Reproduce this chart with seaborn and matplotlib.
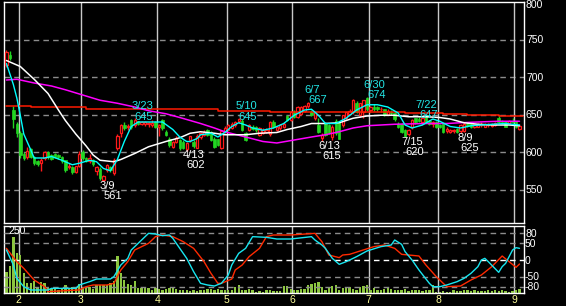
import matplotlib
matplotlib.use('Agg')
import matplotlib.pyplot as plt
import numpy as np
import pandas as pd
import seaborn as sns
from matplotlib.patches import Rectangle
from matplotlib.transforms import blended_transform_factory

sns.set_theme(style='dark')
plt.rcParams['font.family'] = ['Liberation Sans', 'DejaVu Sans']

# ---------------- data ----------------
holidays = ['2022-02-11', '2022-02-23', '2022-03-21', '2022-04-29', '2022-05-03',
            '2022-05-04', '2022-05-05', '2022-07-18', '2022-08-11']
dates = pd.bdate_range('2022-01-26', '2022-09-02').difference(pd.to_datetime(holidays))
month_labels = ['2', '3', '4', '5', '6', '7', '8', '9']

open_ = [716, 730, 656, 638, 626, 598, 593, 604, 593, 588,
         585, 592, 600, 596, 597, 596, 593, 589, 580, 580,
         574, 581, 600, 592, 588, 590, 575, 578, 563, 576,
         580, 572, 605, 625, 636, 633, 643, 636, 641, 638,
         637, 638, 636, 640, 633, 643, 627, 618, 607, 614,
         616, 614, 604, 616, 614, 606, 620, 623, 629, 627,
         618, 617, 605, 627, 630, 632, 636, 641, 642, 625,
         630, 634, 634, 623, 625, 627, 624, 640, 630, 632,
         633, 648, 643, 654, 647, 651, 655, 661, 654, 645,
         636, 619, 638, 636, 620, 642, 640, 636, 645, 651,
         653, 665, 649, 653, 672, 656, 660, 660, 657, 657,
         650, 653, 652, 637, 638, 629, 624, 633, 645, 644,
         640, 649, 641, 638, 640, 636, 637, 628, 627, 628,
         631, 628, 628, 637, 637, 633, 634, 636, 634, 636,
         635, 636, 646, 641, 640, 638, 641, 640, 631]
high = [736, 735, 661, 640, 628, 600, 607, 606, 595, 590,
        592, 601, 602, 598, 599, 598, 595, 590, 585, 581,
        582, 602, 603, 594, 597, 591, 582, 580, 570, 584,
        582, 592, 624, 638, 640, 638, 644, 645, 642, 642,
        641, 640, 643, 641, 637, 644, 629, 620, 615, 621,
        618, 616, 613, 622, 616, 624, 627, 630, 631, 628,
        620, 618, 630, 635, 637, 640, 642, 645, 644, 627,
        638, 636, 635, 634, 632, 632, 641, 643, 635, 638,
        640, 650, 655, 656, 662, 661, 663, 667, 656, 654,
        645, 625, 640, 638, 636, 644, 642, 650, 654, 657,
        671, 668, 666, 670, 674, 662, 664, 662, 660, 658,
        657, 656, 654, 640, 639, 631, 631, 644, 646, 647,
        646, 650, 643, 642, 641, 638, 638, 633, 631, 631,
        632, 637, 640, 640, 638, 638, 639, 640, 639, 639,
        639, 640, 648, 643, 641, 643, 645, 641, 637]
low = [714, 723, 632, 620, 592, 589, 591, 592, 583, 582,
       575, 590, 591, 589, 592, 591, 586, 574, 578, 571,
       572, 580, 590, 587, 586, 582, 570, 563, 561, 574,
       574, 570, 603, 620, 630, 630, 631, 634, 636, 636,
       635, 634, 634, 632, 621, 630, 622, 607, 605, 612,
       603, 604, 602, 614, 606, 605, 618, 621, 622, 615,
       606, 608, 604, 626, 629, 631, 634, 639, 628, 615,
       628, 629, 627, 621, 624, 626, 622, 632, 628, 630,
       632, 641, 642, 645, 646, 649, 653, 659, 648, 643,
       625, 615, 622, 624, 616, 623, 618, 634, 643, 649,
       651, 652, 647, 645, 655, 654, 655, 655, 654, 648,
       649, 650, 642, 632, 625, 620, 622, 631, 638, 640,
       638, 639, 636, 634, 632, 632, 626, 626, 626, 626,
       626, 625, 627, 634, 632, 632, 633, 634, 633, 634,
       634, 635, 639, 638, 633, 637, 639, 632, 630]
close = [733, 726, 644, 626, 596, 592, 601, 593, 585, 584,
         590, 600, 593, 591, 593, 593, 588, 576, 582, 573,
         581, 598, 592, 588, 592, 584, 580, 565, 568, 583,
         576, 590, 622, 636, 632, 635, 633, 643, 637, 640,
         640, 639, 639, 634, 636, 632, 623, 609, 613, 619,
         605, 606, 612, 621, 608, 622, 625, 627, 623, 616,
         607, 609, 628, 632, 636, 638, 640, 644, 629, 616,
         636, 631, 629, 632, 630, 630, 640, 634, 633, 636,
         638, 643, 653, 647, 660, 660, 661, 665, 650, 653,
         627, 623, 623, 625, 634, 625, 618, 649, 653, 655,
         669, 654, 665, 669, 657, 660, 657, 657, 658, 650,
         655, 652, 644, 634, 627, 622, 630, 643, 640, 642,
         645, 640, 638, 640, 633, 634, 627, 631, 630, 630,
         627, 636, 638, 635, 633, 637, 638, 637, 638, 637,
         638, 639, 640, 640, 634, 641, 640, 633, 635]
volume = [80, 100, 210, 149, 142, 75, 37, 37, 46, 24,
          42, 37, 18, 15, 18, 11, 15, 30, 18, 24,
          18, 34, 24, 18, 24, 15, 30, 30, 30, 28,
          39, 45, 138, 76, 48, 34, 30, 45, 18, 18,
          18, 18, 11, 18, 15, 11, 15, 18, 24, 15,
          11, 11, 11, 8, 11, 8, 11, 11, 15, 15,
          11, 15, 11, 11, 11, 11, 24, 30, 11, 11,
          15, 11, 4, 8, 4, 11, 11, 8, 8, 8,
          26, 26, 15, 11, 11, 15, 15, 30, 34, 36,
          40, 24, 11, 18, 26, 30, 11, 18, 24, 24,
          15, 11, 24, 27, 30, 11, 18, 11, 11, 15,
          18, 15, 11, 11, 11, 15, 8, 11, 11, 11,
          8, 11, 11, 30, 4, 4, 8, 4, 4, 11,
          8, 8, 11, 11, 8, 11, 8, 8, 8, 11,
          8, 11, 8, 11, 8, 4, 8, 11, 15]

# moving averages (day index, price)
ma_short_idx = [0, 2, 3, 4, 5, 7, 8, 11, 13, 16, 19, 21, 24, 26, 28, 30, 32, 34, 36, 38,
                42, 45, 48, 50, 52, 53, 55, 56, 59, 61, 63, 65, 67, 69, 71, 74, 77, 80, 83, 86,
                88, 90, 92, 95, 98, 101, 104, 107, 110, 113, 115, 117, 120, 123, 125, 128, 131,
                134, 137, 140, 144, 148]
ma_short = [718, 690, 672, 649, 624, 603, 592, 592, 594, 589, 583, 585, 589, 587, 578, 575,
            590, 614, 634, 640, 640, 640, 630, 620, 614, 614, 618, 623, 625, 620, 626, 634,
            639, 636, 632, 629, 632, 638, 649, 656, 657, 649, 638, 638, 645, 656, 663, 663,
            660, 652, 636, 632, 636, 644, 641, 634, 632, 635, 636, 637, 638, 636]
ma_mid_idx = [0, 4, 8, 12, 15, 17, 20, 23, 25, 27, 31, 33, 37, 41, 46, 50, 53, 56, 60, 63,
              69, 73, 78, 81, 85, 88, 92, 96, 100, 104, 108, 112, 116, 121, 125, 128, 132,
              136, 140, 145, 148]
ma_mid = [722, 714, 697, 678, 656, 642, 624, 608, 596, 589, 587, 590, 598, 607, 614, 619,
          625, 627, 625, 623, 623, 625, 626, 630, 634, 638, 638, 639, 645, 648, 649, 649,
          647, 647, 646, 644, 639, 637, 636, 636, 635]
ma_long_idx = [0, 3, 8, 13, 17, 22, 27, 32, 37, 41, 46, 50, 56, 60, 63, 69, 74, 78, 83, 88,
               92, 96, 100, 104, 108, 112, 121, 127, 131, 136, 142, 148]
ma_long = [696, 697, 692, 688, 683, 676, 669, 665, 660, 655, 651, 646, 638, 632, 627, 620,
           614, 612, 616, 620, 623, 627, 632, 635, 636, 637, 638, 638, 639, 640, 641, 641]
ma_year_idx = [0, 7, 23, 31, 61, 76, 115, 126, 133, 142, 149]
ma_year = [662, 659.5, 658, 657, 655, 653, 652.5, 651, 650, 648.5, 648.5]

# oscillator (day index, value)
osc_fast_idx = [0, 2, 3, 5, 7, 12, 13, 17, 20, 21, 24, 26, 30, 31, 33, 35, 36, 38, 40, 41,
                43, 45, 47, 48, 50, 52, 54, 56, 58, 60, 62, 64, 65, 67, 69, 71, 75, 78, 82,
                88, 89, 91, 92, 94, 96, 98, 101, 104, 108, 111, 112, 114, 115, 117, 119, 122,
                123, 125, 127, 130, 132, 134, 136, 137, 138, 139, 142, 143, 144, 146, 147, 148]
osc_fast = [30, -15, -55, -80, -90, -90, -85, -85, -85, -75, -65, -57, -57, -50, -15, 5, 30,
            50, 70, 80, 78, 73, 75, 65, 35, 5, -35, -70, -75, -78, -70, -45, -15, 20, 35, 70,
            68, 63, 63,
            70, 60, 45, 35, 5, -13, -5, 10, 27, 40, 45, 60, 47, 25, 0, -30, -70, -80, -80,
            -75, -65, -55, -40, -20, 0, 5, -5, -37, -20, -10, 30, 37, 35]
osc_slow_idx = [0, 3, 5, 8, 11, 12, 17, 21, 23, 25, 29, 31, 33, 35, 37, 39, 41, 43, 45, 48,
                51, 54, 57, 59, 61, 62, 65, 66, 68, 70, 73, 75, 77, 82,
                89, 91, 93, 96, 97, 99, 102, 106, 109, 112, 114, 116, 119, 121, 124, 127,
                131, 134, 137, 140, 143, 145, 147, 148]
osc_slow = [35, -5, -25, -60, -80, -95, -92, -90, -80, -75, -75, -70, -30, -5, 30, 40, 50,
            70, 75, 70, 55, 35, -5, -40, -70, -70, -57, -30, -15, 10, 35, 70, 75, 75,
            80, 55, 15, 7, 15, 17, 27, 40, 45, 35, 17, 15, 12, -15, -50, -80, -78, -60, -45,
            -20, 12, -5, -22, -12]

high_marks = ['2022-03-23', '2022-05-10', '2022-06-07', '2022-06-30', '2022-07-22']
low_marks = ['2022-03-09', '2022-04-13', '2022-06-13', '2022-07-15', '2022-08-09']

price_ticks = [550, 600, 650, 700, 750, 800]
osc_ticks = [80, 50, 0, -50, -80]

# ---------------- figure ----------------
W, H = 566, 306
fig = plt.figure(figsize=(W / 100, H / 100), dpi=100, facecolor='black')


def rect(l, t, r, b):
    return [l / W, 1 - b / H, (r - l) / W, (b - t) / H]


ax = fig.add_axes(rect(4, 2, 524, 223))
axv = fig.add_axes(rect(4, 226, 524, 293))
axo = fig.add_axes(rect(4, 226, 524, 293), sharex=axv)

n = len(close)
idx = np.arange(n)
XL = (-0.7, 149.3)
PT = 0.72  # points per pixel
LFS = 8.0  # mark label font size

for a in (ax, axv, axo):
    a.set_xlim(*XL)
    a.grid(False)
ax.set_facecolor('black')
axv.set_facecolor('black')
axo.patch.set_alpha(0)

ax.set_ylim(800 - 221 * 4 / 3, 800)
axv.set_ylim(0, 250)
axo.set_ylim(-99, 102)

# month boundaries
months = dates.month
bounds = [i - 0.5 for i in range(1, n) if months[i] != months[i - 1]]

# grid lines
for v in [550, 600, 650, 700, 750]:
    ax.axhline(v, color='#8c8c8c', lw=1, dashes=(4, 3), zorder=1)
for b in bounds:
    ax.axvline(b, color='#c8c8c8', lw=1, zorder=1)
    axv.axvline(b, color='#c8c8c8', lw=1, zorder=1)
for v in [80, 50, -50, -80]:
    axo.axhline(v, color='#8c8c8c', lw=1, dashes=(4, 3), zorder=1)
axo.axhline(0, color='white', lw=1, dashes=(4, 3), zorder=1)

# candles
RED = '#ff1a1a'
GREEN = '#22d622'
for i in range(n):
    o, h, l, c = open_[i], high[i], low[i], close[i]
    up = c >= o
    col = RED if up else GREEN
    ax.vlines(i, l, h, color=col, lw=1, zorder=3)
    lo_, hi_ = min(o, c), max(o, c)
    hgt = max(hi_ - lo_, 0.6)
    if up:
        ax.add_patch(Rectangle((i - 0.33, lo_), 0.66, hgt, facecolor='black',
                               edgecolor=col, lw=0.9, zorder=4))
    else:
        ax.add_patch(Rectangle((i - 0.36, lo_), 0.72, hgt, facecolor=col,
                               edgecolor=col, lw=0.5, zorder=4))

# moving averages
sns.lineplot(x=ma_year_idx, y=ma_year, ax=ax, color='#ff1a00', lw=1.1,
             drawstyle='steps-post', estimator=None, sort=False, legend=False, zorder=5)
sns.lineplot(x=ma_long_idx, y=ma_long, ax=ax, color='#ff00ff', lw=1.1,
             estimator=None, sort=False, legend=False, zorder=5)
sns.lineplot(x=ma_mid_idx, y=ma_mid, ax=ax, color='white', lw=1.1,
             estimator=None, sort=False, legend=False, zorder=6)
sns.lineplot(x=ma_short_idx, y=ma_short, ax=ax, color='#00ffff', lw=1.0,
             estimator=None, sort=False, legend=False, zorder=7)


def md(d):
    return f'{int(d[5:7])}/{int(d[8:])}'


# high / low marks
for d in high_marks:
    i = dates.get_loc(pd.Timestamp(d))
    v = high[i]
    ax.annotate(md(d), (i, v), xytext=(-3.5 * PT, 9 * PT), textcoords='offset points',
                ha='left', va='baseline', color='#22e6e6', fontsize=LFS, zorder=9)
    ax.annotate(f'{v}', (i, v), xytext=(0, -1.5 * PT), textcoords='offset points',
                ha='left', va='baseline', color='#22e6e6', fontsize=LFS, zorder=9)
for d in low_marks:
    i = dates.get_loc(pd.Timestamp(d))
    v = low[i]
    ax.annotate(md(d), (i, v), xytext=(-3.5 * PT, -8 * PT), textcoords='offset points',
                ha='left', va='baseline', color='white', fontsize=LFS, zorder=9)
    ax.annotate(f'{v}', (i, v), xytext=(0, -18 * PT), textcoords='offset points',
                ha='left', va='baseline', color='white', fontsize=LFS, zorder=9)

# volume
axv.bar(idx, volume, width=0.68, color='#8cc63f', linewidth=0, zorder=2)

# oscillator
sns.lineplot(x=osc_slow_idx, y=osc_slow, ax=axo, color='#ff2a00', lw=1.0,
             estimator=None, sort=False, legend=False, zorder=4)
sns.lineplot(x=osc_fast_idx, y=osc_fast, ax=axo, color='#19e6f0', lw=1.0,
             estimator=None, sort=False, legend=False, zorder=5)

# ticks & labels
for a in (ax, axv, axo):
    a.set_yticks([])
    a.set_xlabel('')
    a.set_ylabel('')
ax.set_xticks([])
axo.tick_params(axis='x', length=0, labelbottom=False)
axv.set_xticks(bounds)
axv.set_xticklabels(month_labels)
axv.tick_params(axis='x', length=0, pad=1.5, labelsize=7.5, labelcolor='#ffff9a')

tr = blended_transform_factory(ax.transAxes, ax.transData)
for v in price_ticks:
    yy = v - 3 * 4 / 3 if v == 800 else v - 1.2
    ax.text((526 - 4) / 520, yy, str(v), transform=tr, ha='left', va='center',
            color='white', fontsize=7.5, clip_on=False)
tro = blended_transform_factory(axo.transAxes, axo.transData)
for v in osc_ticks:
    axo.text((525 - 4) / 520, v - 2.5, str(v), transform=tro, ha='left', va='center',
             color='white', fontsize=7.5, clip_on=False)
fig.text(8 / W, 1 - 226.5 / H, '250', ha='left', va='top', color='white', fontsize=7.5)

for a in (ax, axv):
    for s in a.spines.values():
        s.set_color('white')
        s.set_linewidth(1)
        s.set_visible(True)
for s in axo.spines.values():
    s.set_visible(False)

fig.savefig('out.png', dpi=100, facecolor='black')
